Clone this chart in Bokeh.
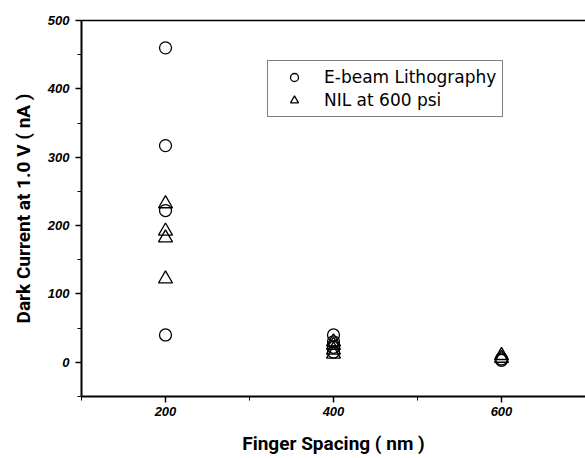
from bokeh.plotting import figure
from bokeh.models import Range1d, FixedTicker, Legend, LegendItem, LinearAxis
from bokeh.embed import file_html
from bokeh.resources import INLINE

# Data
ebeam_x = [200, 200, 200, 200, 400, 400, 400, 400, 600, 600]
ebeam_y = [460, 317, 222, 40, 40, 30, 22, 15, 5, 3]
nil_x = [200, 200, 200, 200, 400, 400, 400, 400, 600, 600]
nil_y = [232, 192, 182, 122, 30, 25, 18, 12, 10, 6]

x_ticks = [200, 400, 600]
x_minor = [100, 300, 500, 700]
y_ticks = [0, 100, 200, 300, 400, 500]
y_minor = [-50, 50, 150, 250, 350, 450]

p = figure(width=585, height=458, output_backend="svg", toolbar_location=None,
           x_range=Range1d(100, 700), y_range=Range1d(-50, 500),
           min_border_left=81, min_border_right=0, min_border_top=20, min_border_bottom=62)

p.background_fill_color = "white"
p.border_fill_color = "white"
p.grid.visible = False
p.outline_line_color = None

lab_font = "Liberation Sans"
title_font = "Roboto"

for ax in (p.xaxis[0], p.yaxis[0]):
    ax.axis_line_width = 2
    ax.major_tick_line_width = 1.5
    ax.minor_tick_line_width = 1
    ax.major_tick_out = 6
    ax.major_tick_in = 0
    ax.minor_tick_out = 4
    ax.minor_tick_in = 0
    ax.major_label_text_font = lab_font
    ax.major_label_text_font_style = "bold italic"
    ax.major_label_text_font_size = "13px"
    ax.major_label_text_color = "black"
    ax.axis_label_text_font = title_font
    ax.axis_label_text_font_style = "bold"
    ax.axis_label_text_color = "black"

p.xaxis.axis_label_text_font_size = "19px"
p.yaxis.axis_label_text_font_size = "19px"
p.xaxis.ticker = FixedTicker(ticks=x_ticks, minor_ticks=x_minor)
p.yaxis.ticker = FixedTicker(ticks=y_ticks, minor_ticks=y_minor)
p.xaxis.axis_label = "Finger Spacing ( nm )"
p.yaxis.axis_label = "Dark Current at 1.0 V ( nA )"
p.xaxis.major_label_standoff = 4
p.xaxis.axis_label_standoff = 13
p.yaxis.major_label_standoff = 6
p.yaxis.axis_label_standoff = 10

top = LinearAxis(ticker=FixedTicker(ticks=[]), major_label_text_font_size="0px",
                 axis_line_width=1.5, major_tick_line_color=None,
                 minor_tick_line_color=None)
p.add_layout(top, "above")

r1 = p.scatter(ebeam_x, ebeam_y, marker="circle", size=12, fill_color=None,
               line_color="black", line_width=1.3)
r2 = p.scatter(nil_x, nil_y, marker="triangle", size=14, fill_color=None,
               line_color="black", line_width=1.3)

legend = Legend(items=[LegendItem(label="E-beam Lithography", renderers=[r1]),
                       LegendItem(label="NIL at 600 psi", renderers=[r2])])
legend.label_text_font = "DejaVu Sans"
legend.label_text_font_size = "17px"
legend.label_text_color = "black"
legend.border_line_color = "black"
legend.border_line_width = 1
legend.background_fill_alpha = 1
legend.glyph_width = 40
legend.glyph_height = 20
legend.label_height = 20
legend.label_standoff = 10
legend.padding = 6
legend.spacing = 3
legend.margin = 0
legend.location = (186, 279)
p.add_layout(legend, "center")

open("out.html", "w").write(file_html(p, INLINE))
